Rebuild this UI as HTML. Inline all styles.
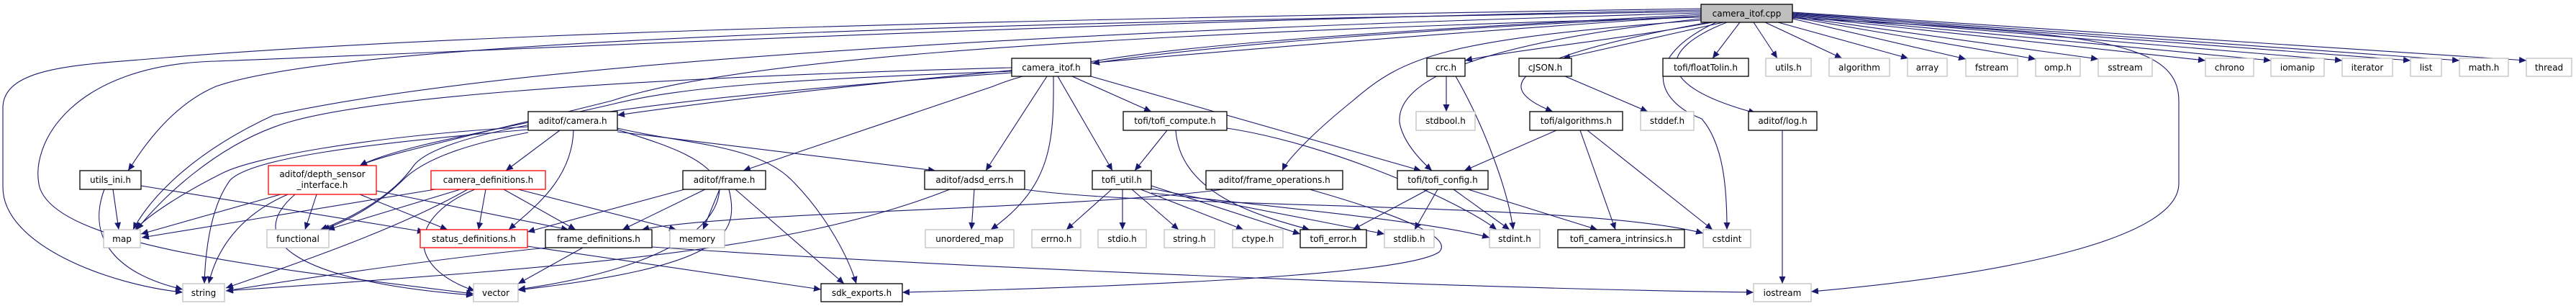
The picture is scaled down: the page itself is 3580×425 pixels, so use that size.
<!DOCTYPE html>
<html><head><meta charset="utf-8"><style>
html,body{margin:0;padding:0;background:#fff;}
svg{display:block;}
text{font-family:"DejaVu Sans","Liberation Sans",sans-serif;font-size:12px;fill:#000;}
.e{fill:none;stroke:#191970;stroke-width:1.1;marker-end:url(#a);}
.n{fill:#fff;stroke:#000;stroke-width:1.3;}
.g{fill:#fff;stroke:#bfbfbf;stroke-width:1.3;}
.r{fill:#fff;stroke:#ff0000;stroke-width:1.3;}
</style></head><body>
<svg width="3580" height="425" viewBox="0 0 3580 425" xmlns="http://www.w3.org/2000/svg">
<defs><marker id="a" markerUnits="userSpaceOnUse" markerWidth="11" markerHeight="9" refX="10" refY="4.5" orient="auto"><path d="M0,0 L10,4.5 L0,9 z" fill="#191970"/></marker></defs>
<g>
<!-- from cpp -->
<path class="e" d="M2364 22 C2000 40 1700 60 1518 88"/>
<path class="e" d="M2380 31 C2250 55 2100 70 2036 84"/>
<path class="e" d="M2395 31 L2172 81"/>
<path class="e" d="M2418 31 L2380 81"/>
<path class="e" d="M2437 31 L2470 81"/>
<path class="e" d="M2453 31 L2560 81"/>
<path class="e" d="M2471 31 L2652 81"/>
<path class="e" d="M2491 26 L2732 82"/>
<path class="e" d="M2491 24 L2829 82"/>
<path class="e" d="M2491 23 L2916 82"/>
<path class="e" d="M2491 22 L3065 84"/>
<path class="e" d="M2491 21 L3156 84"/>
<path class="e" d="M2491 20 L3255 84"/>
<path class="e" d="M2491 19 L3350 84"/>
<path class="e" d="M2491 18 L3418 84"/>
<path class="e" d="M2491 17 L3511 84"/>
<path class="e" d="M2491 25 C2900 45 3028 55 3028 140 L3028 255 C3028 330 2800 380 2517 405"/>
<path class="e" d="M2400 31 C2300 70 2300 120 2440 157"/>
<path class="e" d="M2385 31 C2280 80 2300 140 2365 165 C2395 200 2400 260 2400 319"/>
<path class="e" d="M2375 31 C2100 80 2070 120 2158 155"/>
<path class="e" d="M2364 26 C2100 55 1940 100 1945 170 C1950 200 1980 228 1990 237"/>
<path class="e" d="M2364 28 C2000 55 1950 80 1880 140 C1830 180 1790 220 1782 237"/>
<path class="e" d="M2364 20 C1800 50 1500 70 1380 120 C1200 180 1080 220 1033 237"/>
<path class="e" d="M2364 16 C1500 30 500 50 300 120 C230 150 190 220 178 237"/>
<path class="e" d="M2364 18 C1400 45 700 90 380 160 C250 220 200 290 185 319"/>
<path class="e" d="M2364 24 C1400 50 1000 90 850 140 C650 190 530 215 500 230"/>
<path class="e" d="M2364 12 C1200 30 600 50 230 80 C120 90 4 90 4 150 L4 260 C4 340 150 395 254 406"/>
<path class="e" d="M2364 14 C1500 30 700 70 300 85 C100 90 40 200 55 260 C80 340 350 370 658 408"/>
<path class="e" d="M2364 22 C1800 60 1200 110 858 160"/>
<!-- camera_itof.h -->
<path class="e" d="M1406 99 C1100 110 950 120 850 145 C700 180 560 200 500 230"/>
<path class="e" d="M1406 94 C800 110 500 140 400 170 C300 200 220 280 190 319"/>
<path class="e" d="M1406 101 C1000 130 620 170 575 230 C540 280 470 310 445 319"/>
<path class="e" d="M1490 106 L1600 155"/>
<path class="e" d="M1455 106 L1370 237"/>
<path class="e" d="M1470 106 L1546 237"/>
<path class="e" d="M1464 106 C1465 200 1460 260 1377 319"/>
<path class="e" d="M1516 106 L1975 237"/>
<!-- camera.h -->
<path class="e" d="M778 181 L703 237"/>
<path class="e" d="M797 181 C795 250 740 290 707 319"/>
<path class="e" d="M734 176 C500 190 350 220 310 240 C250 270 205 300 188 319"/>
<path class="e" d="M734 180 C500 200 350 220 320 250 C290 290 285 360 284 394"/>
<path class="e" d="M734 184 C650 200 590 220 560 250 C520 290 470 312 448 319"/>
<path class="e" d="M858 183 L1300 237"/>
<path class="e" d="M858 178 C950 200 1050 200 1100 250 C1150 300 1180 360 1190 394"/>
<path class="e" d="M858 180 C920 200 990 220 1000 260 C1000 330 880 380 720 402"/>
<!-- utils_ini -->
<path class="e" d="M157 263 L165 319"/>
<path class="e" d="M145 263 C120 330 160 380 254 402"/>
<path class="e" d="M196 258 L590 322"/>
<!-- depth sensor -->
<path class="e" d="M390 270 L196 325"/>
<path class="e" d="M400 270 C330 300 300 350 290 394"/>
<path class="e" d="M440 270 L424 319"/>
<path class="e" d="M500 270 L622 319"/>
<path class="e" d="M523 265 L790 319"/>
<path class="e" d="M410 270 C340 330 400 390 658 410"/>
<!-- camera_definitions -->
<path class="e" d="M605 263 L197 330"/>
<path class="e" d="M640 263 L455 319"/>
<path class="e" d="M675 263 L665 319"/>
<path class="e" d="M700 263 L800 319"/>
<path class="e" d="M650 263 C550 320 400 370 314 400"/>
<path class="e" d="M660 263 C570 300 560 370 660 404"/>
<path class="e" d="M720 263 L940 319"/>
<!-- frame.h -->
<path class="e" d="M955 262 L733 322"/>
<path class="e" d="M980 263 L865 319"/>
<path class="e" d="M1000 263 L977 319"/>
<path class="e" d="M1013 263 C1030 330 1000 370 720 403"/>
<path class="e" d="M1022 263 L1173 394"/>
<!-- adsd -->
<path class="e" d="M1354 263 L1350 319"/>
<path class="e" d="M1424 263 C1600 290 2200 280 2367 324"/>
<path class="e" d="M1320 263 C1100 350 800 370 314 404"/>
<!-- tofi_util -->
<path class="e" d="M1545 263 L1482 319"/>
<path class="e" d="M1560 263 L1560 319"/>
<path class="e" d="M1573 263 L1638 319"/>
<path class="e" d="M1585 263 L1728 319"/>
<path class="e" d="M1600 258 L1807 325"/>
<path class="e" d="M1600 262 L1924 325"/>
<path class="e" d="M1600 268 C1800 290 2000 310 2070 330"/>
<!-- tofi_compute -->
<path class="e" d="M1622 181 L1577 237"/>
<path class="e" d="M1634 181 C1640 270 1750 300 1820 319"/>
<path class="e" d="M1705 178 C1850 200 2030 280 2080 319"/>
<!-- frame_ops -->
<path class="e" d="M1700 263 C1500 290 1000 295 892 319"/>
<path class="e" d="M1820 263 C1950 300 2020 330 2000 350 C1950 385 1500 400 1254 406"/>
<!-- tofi_config -->
<path class="e" d="M1985 263 L1880 319"/>
<path class="e" d="M1998 263 L1966 319"/>
<path class="e" d="M2020 263 L2098 319"/>
<path class="e" d="M2040 263 L2220 319"/>
<!-- algorithms -->
<path class="e" d="M2163 181 L2035 237"/>
<path class="e" d="M2196 181 L2245 319"/>
<path class="e" d="M2206 181 L2380 319"/>
<!-- crc, cjson, log -->
<path class="e" d="M2010 106 L2010 155"/>
<path class="e" d="M2023 106 C2060 170 2095 260 2103 319"/>
<path class="e" d="M2175 106 L2290 155"/>
<path class="e" d="M2477 181 L2477 394"/>
<!-- row4 -->
<path class="e" d="M733 342 L1141 402"/>
<path class="e" d="M760 344 C600 360 400 390 314 404"/>
<path class="e" d="M810 344 L720 394"/>
<path class="e" d="M906 343 C1300 370 2000 400 2437 406"/>
</g>
<g>
<rect class="n" x="2364" y="6" width="127" height="25" style="fill:#bfbfbf"/><text x="2427.5" y="23" text-anchor="middle">camera_itof.cpp</text>
<rect class="n" x="1406" y="81" width="110" height="25"/><text x="1461" y="98" text-anchor="middle">camera_itof.h</text>
<rect class="n" x="1983" y="81" width="53" height="25"/><text x="2009.5" y="98" text-anchor="middle">crc.h</text>
<rect class="n" x="2111" y="81" width="73" height="25"/><text x="2147.5" y="98" text-anchor="middle">cJSON.h</text>
<rect class="n" x="2311" y="81" width="119" height="25"/><text x="2370.5" y="98" text-anchor="middle">tofi/floatTolin.h</text>
<rect class="g" x="2454" y="81" width="63" height="25"/><text x="2485.5" y="98" text-anchor="middle">utils.h</text>
<rect class="g" x="2542" y="81" width="84" height="25"/><text x="2584" y="98" text-anchor="middle">algorithm</text>
<rect class="g" x="2651" y="81" width="55" height="25"/><text x="2678.5" y="98" text-anchor="middle">array</text>
<rect class="g" x="2732" y="81" width="72" height="25"/><text x="2768" y="98" text-anchor="middle">fstream</text>
<rect class="g" x="2829" y="81" width="62" height="25"/><text x="2860" y="98" text-anchor="middle">omp.h</text>
<rect class="g" x="2916" y="81" width="75" height="25"/><text x="2953.5" y="98" text-anchor="middle">sstream</text>
<rect class="g" x="3065" y="81" width="67" height="25"/><text x="3098.5" y="98" text-anchor="middle">chrono</text>
<rect class="g" x="3156" y="81" width="74" height="25"/><text x="3193" y="98" text-anchor="middle">iomanip</text>
<rect class="g" x="3255" y="81" width="70" height="25"/><text x="3290" y="98" text-anchor="middle">iterator</text>
<rect class="g" x="3350" y="81" width="43" height="25"/><text x="3371.5" y="98" text-anchor="middle">list</text>
<rect class="g" x="3418" y="81" width="68" height="25"/><text x="3452" y="98" text-anchor="middle">math.h</text>
<rect class="g" x="3511" y="81" width="63" height="25"/><text x="3542.5" y="98" text-anchor="middle">thread</text>

<rect class="n" x="734" y="155" width="124" height="26"/><text x="796" y="172" text-anchor="middle">aditof/camera.h</text>
<rect class="n" x="1561" y="155" width="144" height="26"/><text x="1633" y="172" text-anchor="middle">tofi/tofi_compute.h</text>
<rect class="g" x="1968" y="155" width="82" height="26"/><text x="2009" y="172" text-anchor="middle">stdbool.h</text>
<rect class="n" x="2126" y="155" width="129" height="26"/><text x="2190.5" y="172" text-anchor="middle">tofi/algorithms.h</text>
<rect class="g" x="2280" y="155" width="74" height="26"/><text x="2317" y="172" text-anchor="middle">stddef.h</text>
<rect class="n" x="2430" y="155" width="95" height="26"/><text x="2477.5" y="172" text-anchor="middle">aditof/log.h</text>

<rect class="n" x="111" y="237" width="85" height="26"/><text x="153.5" y="254" text-anchor="middle">utils_ini.h</text>
<rect class="r" x="373" y="230" width="150" height="40"/><text x="448" y="246" text-anchor="middle">aditof/depth_sensor</text><text x="448" y="261" text-anchor="middle">_interface.h</text>
<rect class="r" x="599" y="237" width="159" height="26"/><text x="678.5" y="254" text-anchor="middle">camera_definitions.h</text>
<rect class="n" x="949" y="237" width="115" height="26"/><text x="1006.5" y="254" text-anchor="middle">aditof/frame.h</text>
<rect class="n" x="1285" y="237" width="139" height="26"/><text x="1354.5" y="254" text-anchor="middle">aditof/adsd_errs.h</text>
<rect class="n" x="1518" y="237" width="82" height="26"/><text x="1559" y="254" text-anchor="middle">tofi_util.h</text>
<rect class="n" x="1676" y="237" width="190" height="26"/><text x="1771" y="254" text-anchor="middle">aditof/frame_operations.h</text>
<rect class="n" x="1942" y="237" width="126" height="26"/><text x="2005" y="254" text-anchor="middle">tofi/tofi_config.h</text>

<rect class="g" x="144" y="319" width="51" height="25"/><text x="169.5" y="336" text-anchor="middle">map</text>
<rect class="g" x="371" y="319" width="86" height="25"/><text x="414" y="336" text-anchor="middle">functional</text>
<rect class="r" x="584" y="319" width="149" height="25"/><text x="658.5" y="336" text-anchor="middle">status_definitions.h</text>
<rect class="n" x="758" y="319" width="148" height="25"/><text x="832" y="336" text-anchor="middle">frame_definitions.h</text>
<rect class="g" x="931" y="319" width="76" height="25"/><text x="969" y="336" text-anchor="middle">memory</text>
<rect class="g" x="1286" y="319" width="123" height="25"/><text x="1347.5" y="336" text-anchor="middle">unordered_map</text>
<rect class="g" x="1434" y="319" width="68" height="25"/><text x="1468" y="336" text-anchor="middle">errno.h</text>
<rect class="g" x="1526" y="319" width="67" height="25"/><text x="1559.5" y="336" text-anchor="middle">stdio.h</text>
<rect class="g" x="1618" y="319" width="70" height="25"/><text x="1653" y="336" text-anchor="middle">string.h</text>
<rect class="g" x="1713" y="319" width="70" height="25"/><text x="1748" y="336" text-anchor="middle">ctype.h</text>
<rect class="n" x="1807" y="319" width="92" height="25"/><text x="1853" y="336" text-anchor="middle">tofi_error.h</text>
<rect class="g" x="1924" y="319" width="69" height="25"/><text x="1958.5" y="336" text-anchor="middle">stdlib.h</text>
<rect class="g" x="2070" y="319" width="70" height="25"/><text x="2105" y="336" text-anchor="middle">stdint.h</text>
<rect class="n" x="2165" y="319" width="176" height="25"/><text x="2253" y="336" text-anchor="middle">tofi_camera_intrinsics.h</text>
<rect class="g" x="2367" y="319" width="66" height="25"/><text x="2400" y="336" text-anchor="middle">cstdint</text>

<rect class="g" x="254" y="394" width="58" height="25"/><text x="283" y="411" text-anchor="middle">string</text>
<rect class="g" x="658" y="394" width="62" height="25"/><text x="689" y="411" text-anchor="middle">vector</text>
<rect class="n" x="1141" y="394" width="113" height="25"/><text x="1197.5" y="411" text-anchor="middle">sdk_exports.h</text>
<rect class="g" x="2437" y="394" width="80" height="25"/><text x="2477" y="411" text-anchor="middle">iostream</text>
</g>
</svg>
</body></html>
